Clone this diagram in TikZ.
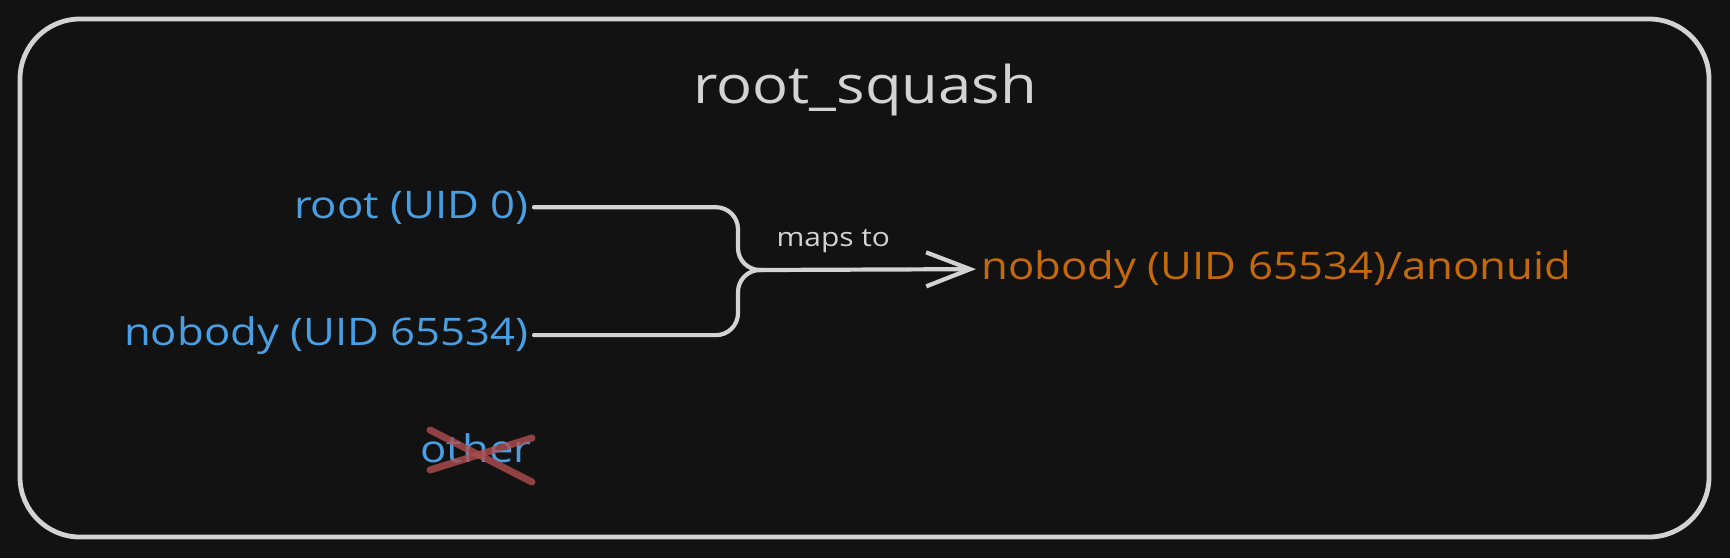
\documentclass[tikz,border=0pt]{standalone}
\usepackage{fontspec}
\setmainfont{Open Sans}[FakeStretch=1.15]
\usetikzlibrary{arrows.meta}
\definecolor{bgdark}{HTML}{121212}
\definecolor{inkwhite}{HTML}{D3D3D3}
\definecolor{uidblue}{HTML}{4A9FE3}
\definecolor{anonorange}{HTML}{C4690A}
\definecolor{strikered}{HTML}{B04E4E}
\tikzset{
  every picture/.style={x=0.5pt, y=-0.5pt},
  uid/.style={text=uidblue, font=\fontsize{19}{23}\selectfont, inner sep=2.5pt},
  anon/.style={uid, text=anonorange},
  heading/.style={text=inkwhite, font=\fontsize{26}{31}\selectfont},
  wire/.style={draw=inkwhite, line width=2.1pt, line cap=round},
  strike/.style={draw=strikered, draw opacity=0.8, line width=3.5pt, line cap=round},
}

\begin{document}
\begin{tikzpicture}
      \def\bend{11pt}

      % Frame
      \fill[bgdark] (0,0) rectangle (1730,558);
      \useasboundingbox (0,0) rectangle (1730,558);
      \draw[inkwhite, line width=2.4pt, rounded corners=30pt] (20,19) rectangle (1709,537);

      % Labels
      \node[heading, anchor=base] (title) at (865,103) {root\_squash};
      \node[uid, anchor=base east] (root) at (534,218) {root (UID 0)};
      \node[uid, anchor=base east] (nobody) at (534,345) {nobody (UID 65534)};
      \node[uid, anchor=base east] (other) at (537,462) {other};
      \node[anon, anchor=base west] (target) at (976,279) {nobody (UID 65534)/anonuid};

      % Connectors
      \coordinate (fork) at (738,270);
      \coordinate (merge) at (763,270);
      \draw[wire, rounded corners=\bend] (root.east) -| (fork) -- (merge);
      \draw[wire, rounded corners=\bend] (nobody.east) -| (fork) -- (merge);
      \draw[wire, -{Straight Barb[length=22pt, width=17pt]}] (merge) -- (target.west)
        node[pos=0.33, anchor=base, yshift=11.5pt, text=inkwhite, font=\fontsize{13}{16}\selectfont] (maps) {maps to};

      % Crossed out
      \draw[strike] (430,430) -- (532,482);
      \draw[strike] (430,470) -- (532,438);
    \end{tikzpicture}
\end{document}
